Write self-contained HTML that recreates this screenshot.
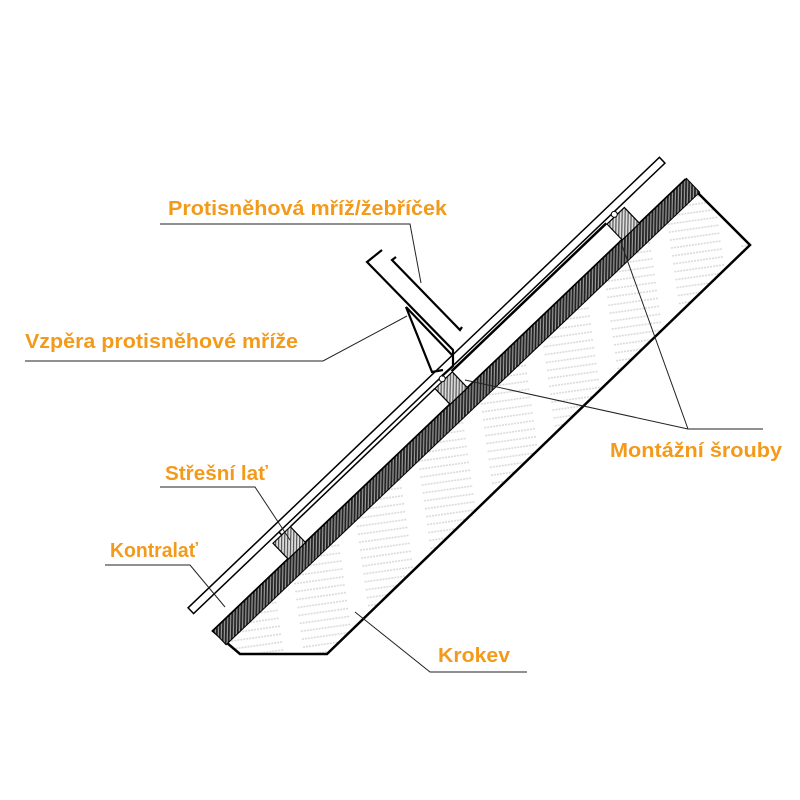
<!DOCTYPE html>
<html><head><meta charset="utf-8"><style>html,body{margin:0;padding:0;background:#fff}svg{display:block}
text{font-family:"Liberation Sans",sans-serif;font-weight:bold;fill:#f39a1b;font-size:20px}</style></head>
<body>
<svg width="800" height="800" viewBox="0 0 800 800">
<defs>
<pattern id="dark" width="3" height="3" patternUnits="userSpaceOnUse" patternTransform="rotate(45)">
<rect width="3" height="3" fill="#999"/><rect width="1.8" height="3" fill="#222"/></pattern>
<pattern id="lite" width="3" height="3" patternUnits="userSpaceOnUse" patternTransform="rotate(45)">
<rect width="3" height="3" fill="#ddd"/><rect width="1.2" height="3" fill="#555"/></pattern>
<pattern id="wood" width="70" height="8" patternUnits="userSpaceOnUse" patternTransform="rotate(-8)">
<rect width="70" height="8" fill="#fff"/><line x1="0" y1="3" x2="50" y2="3" stroke="#d8d8d8" stroke-width="1.5" stroke-dasharray="2 1"/></pattern>
</defs>
<!-- rafter -->
<polygon points="685,180 750,245 327,654 240,654 213,631" fill="url(#wood)" stroke="#000" stroke-width="2.5"/>
<g transform="translate(213,631) rotate(-43.7)">
<rect x="0" y="0" width="655" height="19" fill="url(#dark)" stroke="#000" stroke-width="1"/>
<rect x="104" y="-22" width="24" height="22" fill="url(#lite)" stroke="#000" stroke-width="1.2"/>
<rect x="328" y="-22" width="24" height="22" fill="url(#lite)" stroke="#000" stroke-width="1.2"/>
<rect x="566" y="-22" width="24" height="22" fill="url(#lite)" stroke="#000" stroke-width="1.2"/>
<!-- covering plank -->
<rect x="-2" y="-34" width="652" height="8" fill="#fff" stroke="#000" stroke-width="1.5"/>
<line x1="128" y1="-22" x2="328" y2="-22" stroke="#000" stroke-width="1.5"/>
<line x1="352" y1="-23" x2="566" y2="-23" stroke="#000" stroke-width="2.5"/>
<line x1="116" y1="-26" x2="116" y2="-22" stroke="#000" stroke-width="1.5"/>
<circle cx="340" cy="-24" r="3" fill="#fff" stroke="#000"/>
<circle cx="578" cy="-24" r="3" fill="#fff" stroke="#000"/>
</g>
<!-- snow guard -->
<g fill="none" stroke="#000" stroke-width="2.2">
<polyline points="382,250 367,262 453,350 453,366 442,376"/>
<polyline points="396,257 392,260 460,330 462,327"/>
<polyline points="406,307 432,372 443,370"/>
<polyline points="406,307 452,355"/>
</g>
<!-- leaders -->
<g fill="none" stroke="#222" stroke-width="1">
<polyline points="160,224 410,224 421,283"/>
<polyline points="25,361 323,361 407,316"/>
<polyline points="620,240 688,429 763,429"/>
<polyline points="465,380 688,429"/>
<polyline points="160,487 255,487 290,540"/>
<polyline points="105,565 190,565 225,607"/>
<polyline points="355,612 430,672 527,672"/>
</g>
<text x="168" y="215" textLength="279" lengthAdjust="spacingAndGlyphs">Protisněhová mříž/žebříček</text>
<text x="25" y="348" textLength="273" lengthAdjust="spacingAndGlyphs">Vzpěra protisněhové mříže</text>
<text x="610" y="457" textLength="172" lengthAdjust="spacingAndGlyphs">Montážní šrouby</text>
<text x="165" y="480" textLength="103" lengthAdjust="spacingAndGlyphs">Střešní lať</text>
<text x="110" y="557" textLength="88" lengthAdjust="spacingAndGlyphs">Kontralať</text>
<text x="438" y="662" textLength="72" lengthAdjust="spacingAndGlyphs">Krokev</text>
</svg>
</body></html>
